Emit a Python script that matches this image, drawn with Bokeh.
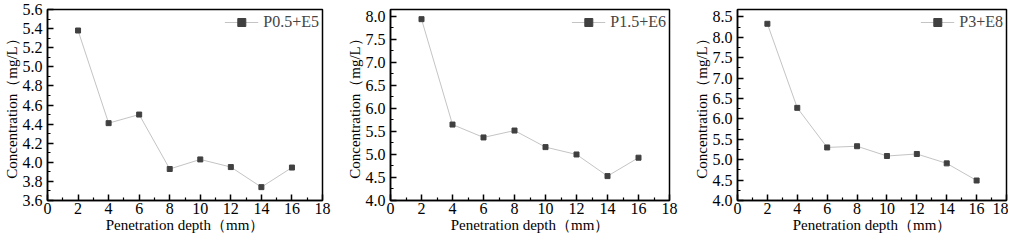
from bokeh.plotting import figure
from bokeh.layouts import row
from bokeh.models import FixedTicker, Range1d, PrintfTickFormatter
from bokeh.embed import file_html
from bokeh.resources import INLINE

depth = [2, 4, 6, 8, 10, 12, 14, 16]
p05_e5 = [5.38, 4.41, 4.50, 3.93, 4.03, 3.95, 3.74, 3.945]
p15_e6 = [7.94, 5.65, 5.37, 5.52, 5.16, 5.00, 4.53, 4.93]
p3_e8 = [8.33, 6.27, 5.30, 5.33, 5.09, 5.14, 4.91, 4.49]
labels = ["P0.5+E5", "P1.5+E6", "P3+E8"]
x_ticks = [0, 2, 4, 6, 8, 10, 12, 14, 16, 18]

FONT = "Liberation Serif"
H = 235
BB = 30

def panel(ys, label, yr, ystep, width, bl, br, bt):
    p = figure(width=width, height=H, output_backend="svg", toolbar_location=None,
               x_range=Range1d(0, 18), y_range=Range1d(*yr),
               min_border_left=bl, min_border_right=br, min_border_top=bt,
               min_border_bottom=BB)
    p.grid.visible = False
    p.background_fill_color = "white"
    p.outline_line_color = "black"
    p.outline_line_width = 1.5
    p.line(depth, ys, line_color="#c4c4c4", line_width=1, legend_label=label)
    p.scatter(depth, ys, marker="square", size=5, fill_color="#404040", line_color="#404040",
              legend_label=label)
    n = int(round((yr[1] - yr[0]) / ystep))
    major = [round(yr[0] + i * ystep, 3) for i in range(n + 2)]
    minor = [round(yr[0] + (i + 0.5) * ystep, 3) for i in range(n + 2)]
    p.xaxis.ticker = FixedTicker(ticks=x_ticks, minor_ticks=[1, 3, 5, 7, 9, 11, 13, 15, 17])
    p.yaxis.ticker = FixedTicker(ticks=major, minor_ticks=minor)
    p.yaxis.formatter = PrintfTickFormatter(format="%.1f")
    for ax in (p.xaxis[0], p.yaxis[0]):
        ax.major_tick_in = 6
        ax.major_tick_out = 0
        ax.minor_tick_in = 3
        ax.minor_tick_out = 0
        ax.axis_line_width = 1.5
        ax.major_tick_line_width = 1.5
        ax.minor_tick_line_width = 1.2
        ax.major_label_text_font = FONT
        ax.major_label_text_font_size = "16px"
        ax.major_label_text_color = "black"
        ax.axis_label_text_font = FONT
        ax.axis_label_text_font_size = "15px"
        ax.axis_label_text_font_style = "normal"
        ax.axis_label_text_color = "black"
    p.xaxis.axis_label = "Penetration depth（mm）"
    p.yaxis.axis_label = "Concentration（mg/L）"
    p.xaxis.major_label_standoff = 2
    p.xaxis.axis_label_standoff = 0
    p.yaxis.major_label_standoff = 5
    p.yaxis.axis_label_standoff = 0
    lg = p.legend[0]
    lg.location = "top_right"
    lg.border_line_color = None
    lg.background_fill_alpha = 0
    lg.label_text_font = FONT
    lg.label_text_font_size = "16px"
    lg.glyph_width = 34
    lg.margin = 3
    lg.padding = 3
    lg.spacing = 0
    return p

p1 = panel(p05_e5, labels[0], (3.6, 5.6), 0.2, 340, 47, 18, 9)
p2 = panel(p15_e6, labels[1], (4.0, 8.15), 0.5, 340, 50, 11, 1)
p3 = panel(p3_e8, labels[2], (4.0, 8.68), 0.5, 328, 57, 2, 1)

lay = row(p1, p2, p3)
open("out.html", "w").write(file_html(lay, INLINE))
